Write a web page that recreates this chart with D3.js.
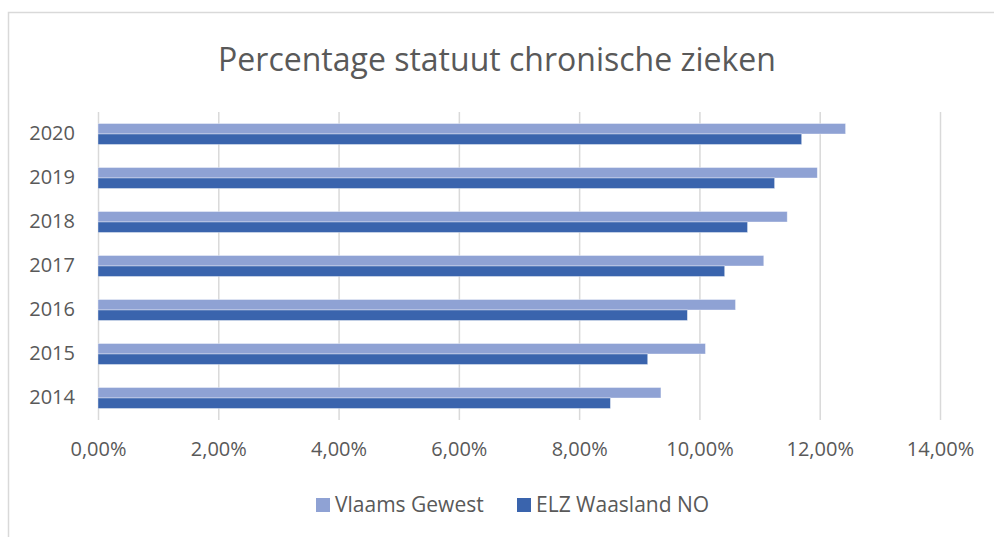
<!DOCTYPE html>
<html><head><meta charset="utf-8">
<script src="https://cdn.jsdelivr.net/npm/d3@7"></script>
<style>body{margin:0;background:#fff}svg{display:block}text{font-family:"Open Sans",sans-serif;fill:#595959}</style>
</head><body>
<svg id="c" width="994" height="537"></svg>
<script>
const years = ["2020","2019","2018","2017","2016","2015","2014"];
const seriesNames = ["Vlaams Gewest","ELZ Waasland NO"];
const vlaamsGewest = [0.1243,0.1196,0.1146,0.1107,0.1060,0.1010,0.0936];
const elzWaasland = [0.1170,0.1125,0.1080,0.1042,0.0980,0.0914,0.0852];
const xTicks = [0,0.02,0.04,0.06,0.08,0.10,0.12,0.14];
const colors = ["#8FA2D4","#3A64AD"];
const title = "Percentage statuut chronische zieken";

const svg = d3.select("#c");
svg.append("path").attr("d","M8.5,537V12.5H994").attr("fill","none").attr("stroke","#d9d9d9").attr("stroke-width",1.5);

const x = d3.scaleLinear().domain([0,0.14]).range([98,940]);
const y = d3.scaleBand().domain(years).range([112,420]).paddingInner(0.523).paddingOuter(0.2615);
const ys = d3.scaleBand().domain(seriesNames).range([0,y.bandwidth()]);

svg.append("text").attr("x",497).attr("y",71).attr("text-anchor","middle").attr("font-size",32).text(title);

const fmt = d => d3.format(".2f")(d*100).replace(".",",")+"%";
const xAxis = d3.axisBottom(x).tickValues(xTicks).tickFormat(fmt).tickSize(-(420-112)).tickPadding(22);
const gx = svg.append("g").attr("transform","translate(0,420)").call(xAxis);
gx.select(".domain").remove();
gx.selectAll(".tick line").attr("stroke","#d9d9d9").attr("stroke-width",1.5);
gx.selectAll(".tick text").attr("font-size",20).attr("fill","#595959").attr("font-family","Open Sans");

const yAxis = d3.axisLeft(y).tickSize(0).tickPadding(23);
const gy = svg.append("g").attr("transform","translate(98,0)").call(yAxis);
gy.select(".domain").remove();
gy.selectAll(".tick text").attr("font-size",20).attr("fill","#595959").attr("font-family","Open Sans");

const data = years.map((yr,i)=>({yr, vals:[vlaamsGewest[i], elzWaasland[i]]}));
const g = svg.append("g");
data.forEach(d=>{
  d.vals.forEach((v,j)=>{
    g.append("rect").attr("x",x(0)).attr("y",y(d.yr)+ys(seriesNames[j]))
     .attr("width",x(v)-x(0)).attr("height",ys.bandwidth())
     .attr("fill",colors[j]).attr("stroke","#fff").attr("stroke-opacity",0.5).attr("stroke-width",0.75);
  });
});

const leg = svg.append("g");
const legX = [316, 517];
seriesNames.forEach((n,j)=>{
  leg.append("rect").attr("x",legX[j]).attr("y",498).attr("width",14).attr("height",14).attr("fill",colors[j]);
  leg.append("text").attr("x",legX[j]+19).attr("y",505).attr("dy","0.35em").attr("font-size",21).text(n);
});
</script>
</body></html>
